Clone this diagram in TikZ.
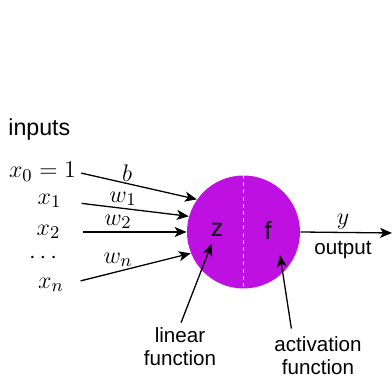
\documentclass[tikz,border=0pt]{standalone}
\usepackage{amsmath}
\usepackage{fontspec}
\setsansfont{Liberation Sans}
\usepackage{tikz}
\usetikzlibrary{arrows.meta,positioning,calc}
\definecolor{neuronpurple}{RGB}{190,16,224}

\begin{document}
\begin{tikzpicture}[x=0.5pt, y=-0.5pt,
    wire/.style={draw, line width=0.65pt, -{Stealth[length=6pt, width=5pt, inset=1.6pt]}},
    mth/.style={font=\fontsize{12.5}{15}\selectfont, inner sep=0pt},
    txt/.style={font=\sffamily\fontsize{10.3}{11.6}\selectfont, align=center, inner sep=1pt}]
    \useasboundingbox (0,0) rectangle (392,378);

    % Inputs
    \node[font=\sffamily\fontsize{11.6}{14}\selectfont, anchor=west, inner sep=0pt] (inputs) at (8,130) {inputs};
    \node[mth] (x0) at (42.5,172) {$x_0 = 1$};
    \node[mth] (x1) at (49.5,201) {$x_1$};
    \node[mth] (x2) at (48.5,232) {$x_2$};
    \node[mth, text height=6.2pt, text depth=0pt] (dots) at (45,257) {$\cdots$};
    \node[mth] (xn) at (51,285) {$x_n$};

    % Neuron
    \node[circle, fill=neuronpurple, minimum size=56.5pt, inner sep=0pt] (neuron) at (243.5,232) {};
    \draw[white, line width=0.6pt, dash pattern=on 2pt off 1.6pt] (neuron.north) -- (neuron.south);
    \node[font=\sffamily\fontsize{12.5}{15}\selectfont] (z) at (217,230) {z};
    \node[font=\sffamily\fontsize{12.5}{15}\selectfont] (f) at (268,230) {f};

    % Weighted connections
    \draw[wire, shorten <=2.5pt] (x0.east) -- (neuron.145);
    \draw[wire, shorten <=10pt] (x1.east) -- (neuron.164);
    \draw[wire, shorten <=11pt] (x2.east) -- (neuron.180);
    \draw[wire, shorten <=8.5pt] (xn.east) -- (neuron.202);

    % Weight labels
    \node[mth] (b) at (127,173) {$b$};
    \node[mth] (w1) at (123,199) {$w_1$};
    \node[mth] (w2) at (118,222) {$w_2$};
    \node[mth] (wn) at (118,260) {$w_n$};

    % Output
    \coordinate (out) at (392,233);
    \draw[wire] (neuron.east) -- (out);
    \node[mth] (ylbl) at (343,222) {$y$};
    \node[txt] (outlbl) at (343,250) {output};

    % Annotations
    \node[txt] (linlbl) at (180,347) {linear\\function};
    \node[txt] (actlbl) at (318,356) {activation\\function};
    \coordinate (acttip) at (280,255);
    \draw[wire, shorten <=1.5pt] (linlbl.north) -- (z);
    \draw[wire, shorten <=3pt] (actlbl.140) -- (acttip);
\end{tikzpicture}
\end{document}
